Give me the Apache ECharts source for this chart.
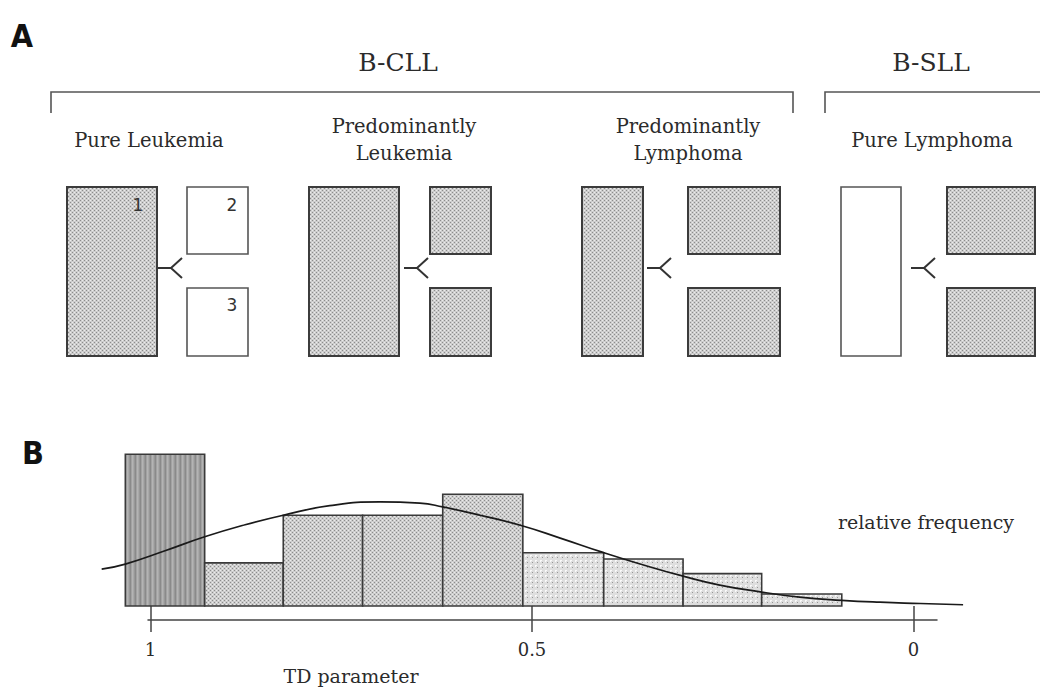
<!DOCTYPE html>
<html><head><meta charset="utf-8">
<script src="https://cdn.jsdelivr.net/npm/echarts@6/dist/echarts.min.js"></script>
<style>html,body{margin:0;padding:0;background:#fff}#chart{width:1042px;height:689px}</style>
</head><body><div id="chart"></div>
<script>
// ---------------- data ----------------
const panelLetters = ['A', 'B'];
const diseaseNames = ['B-CLL', 'B-SLL'];
const groupNames = ['Pure Leukemia', 'Predominantly\nLeukemia', 'Predominantly\nLymphoma', 'Pure Lymphoma'];
const bloodInvolved = [true, true, true, false];
const nodeInvolved = [false, true, true, true];
const compartmentLabels = ['1', '2', '3'];

// histogram of the TD parameter (bin edges in TD units, height = relative frequency %)
const binStartTD = [1.033, 0.929, 0.826, 0.722, 0.617, 0.512, 0.406, 0.302, 0.199];
const binEndTD   = [0.929, 0.826, 0.722, 0.617, 0.512, 0.406, 0.302, 0.199, 0.094];
const binFrequency = [23.9, 6.8, 14.3, 14.3, 17.6, 8.4, 7.4, 5.1, 1.9];
const binKind = ['pure', 'mixed', 'mixed', 'mixed', 'mixed', 'low', 'low', 'low', 'low'];

// fitted density curve
const curveTD = [1.064, 1.033, 0.981, 0.929, 0.876, 0.826, 0.765, 0.699, 0.647, 0.617, 0.568, 0.512, 0.463, 0.406, 0.355, 0.302, 0.254, 0.199, 0.149, 0.094, 0.044, -0.009, -0.065];
const curveFrequency = [5.8, 6.6, 8.7, 10.9, 12.8, 14.3, 15.8, 16.4, 16.2, 15.6, 14.3, 12.6, 10.7, 8.4, 6.5, 4.7, 3.3, 2.2, 1.4, 0.9, 0.6, 0.4, 0.2];

const tdTicks = [1, 0.5, 0];
const xAxisTitle = 'TD parameter';
const yAxisTitle = 'relative frequency';

// ---------------- layout (positions / sizes only) ----------------
const LA = {
  bloodX: [67, 309, 582, 841], bloodW: [90, 90, 61, 60],
  nodeX: [187, 430, 688, 947], nodeW: [61, 61, 92, 88],
  top: 187, bottom: 356, upperBottom: 254, lowerTop: 288,
  forkX: [158, 404, 647, 911], forkY: 268, stem: 13, armDx: 11, armDy: 10,
  labelX: [149, 404, 688, 932], labelY: 140,
  bracketX: [[51, 793], [825, 1040]], bracketDropRight: [true, false],
  bracketY: 92, bracketDrop: 113, titleX: [398, 931], titleY: 62,
  letterPos: [[22, 36], [33, 453]],
  xTitlePos: [351, 676], yTitlePos: [926, 522]
};
// panel B horizontal scale: pixel = TD0_PX - TD_PX * td
const TD_PX = 763, TD0_PX = 913.5, W = 1042;
const plotL = 95, plotR = 970;      // data area (curve overhangs the axis line)
const axisL = 148, axisR = 937;     // drawn axis line
const tdAt = px => (TD0_PX - px) / TD_PX;

const SERIF = '"DejaVu Serif", "Liberation Serif", serif';
const INK = '#2b2b2b';

function makePattern(kind) {
  const c = document.createElement('canvas');
  const ctx = c.getContext('2d');
  if (kind === 'pure') {
    c.width = 5; c.height = 2;
    ['#8a8a8a', '#a2a2a2', '#b4b4b4', '#a8a8a8', '#989898'].forEach((col, i) => { ctx.fillStyle = col; ctx.fillRect(i, 0, 1, 2); });
  } else if (kind === 'mixed') {
    c.width = 4; c.height = 4;
    ctx.fillStyle = '#cdcdcd'; ctx.fillRect(0, 0, 4, 4);
    ctx.fillStyle = '#8c8c8c'; ctx.fillRect(0, 0, 1, 1); ctx.fillRect(2, 2, 1, 1);
    ctx.fillStyle = '#ececec'; ctx.fillRect(2, 0, 1, 1); ctx.fillRect(0, 2, 1, 1);
  } else {
    c.width = 5; c.height = 5;
    ctx.fillStyle = '#dedede'; ctx.fillRect(0, 0, 5, 5);
    ctx.fillStyle = '#969696'; ctx.fillRect(2, 2, 1, 1);
    ctx.fillStyle = '#fafafa'; ctx.fillRect(0, 0, 2, 1); ctx.fillRect(0, 0, 1, 2);
  }
  return { image: c, repeat: 'repeat' };
}
const fills = { pure: makePattern('pure'), mixed: makePattern('mixed'), low: makePattern('low') };

function txt(x, y, text, size, opts) {
  opts = opts || {};
  return {
    type: 'text', x: x, y: y,
    style: {
      text: text, fill: opts.fill || INK, fontSize: size, fontFamily: opts.family || SERIF,
      fontWeight: opts.weight || 'normal', lineHeight: opts.lineHeight || Math.round(size * 1.3),
      align: 'center', verticalAlign: 'middle', textAlign: 'center', textVerticalAlign: 'middle'
    }
  };
}

function renderGroup(params, api) {
  const i = api.value(0);
  const P = (x, y) => api.coord([x, y]);
  const rect = (x0, y0, x1, y1, filled) => {
    const a = P(x0, y0), b = P(x1, y1);
    return { type: 'rect', shape: { x: a[0], y: a[1], width: b[0] - a[0], height: b[1] - a[1] },
      style: { fill: filled ? fills.mixed : '#ffffff', stroke: filled ? '#3c3c3c' : '#555555', lineWidth: filled ? 2 : 1.6 } };
  };
  const bx0 = LA.bloodX[i], bx1 = bx0 + LA.bloodW[i];
  const nx0 = LA.nodeX[i], nx1 = nx0 + LA.nodeW[i];
  const children = [
    rect(bx0, LA.top, bx1, LA.bottom, bloodInvolved[i]),
    rect(nx0, LA.top, nx1, LA.upperBottom, nodeInvolved[i]),
    rect(nx0, LA.lowerTop, nx1, LA.bottom, nodeInvolved[i])
  ];
  const fx = LA.forkX[i], fy = LA.forkY, tip = fx + LA.stem;
  const s0 = P(fx, fy), s1 = P(tip, fy), u = P(tip + LA.armDx, fy - LA.armDy), d = P(tip + LA.armDx, fy + LA.armDy);
  children.push({ type: 'polyline', shape: { points: [s0, s1] }, style: { stroke: '#333', lineWidth: 2, fill: null } });
  children.push({ type: 'polyline', shape: { points: [u, s1, d] }, style: { stroke: '#333', lineWidth: 2, fill: null } });
  const lp = P(LA.labelX[i], LA.labelY);
  children.push(txt(lp[0], lp[1], groupNames[i], 19.5, { lineHeight: 27 }));
  if (i === 0) {
    const sans = { family: '"DejaVu Sans", sans-serif', fill: '#333' };
    let q = P(bx1 - 19, LA.top + 18); children.push(txt(q[0], q[1], compartmentLabels[0], 17, sans));
    q = P(nx1 - 16, LA.top + 18); children.push(txt(q[0], q[1], compartmentLabels[1], 17, sans));
    q = P(nx1 - 16, LA.lowerTop + 17); children.push(txt(q[0], q[1], compartmentLabels[2], 17, sans));
  }
  return { type: 'group', children: children };
}

function renderBracket(params, api) {
  const k = api.value(0);
  const P = (x, y) => api.coord([x, y]);
  const [x0, x1] = LA.bracketX[k];
  const pts = [P(x0, LA.bracketDrop), P(x0, LA.bracketY), P(x1, LA.bracketY)];
  if (LA.bracketDropRight[k]) pts.push(P(x1, LA.bracketDrop));
  const t = P(LA.titleX[k], LA.titleY);
  return { type: 'group', children: [
    { type: 'polyline', shape: { points: pts }, style: { stroke: '#555', lineWidth: 1.6, fill: null } },
    txt(t[0], t[1], diseaseNames[k], 25)
  ] };
}

function renderAnnotations(params, api) {
  const P = (x, y) => api.coord([x, y]);
  const ch = [];
  panelLetters.forEach((l, i) => {
    const p = P(LA.letterPos[i][0], LA.letterPos[i][1]);
    ch.push(txt(p[0], p[1], l, 32, { family: '"DejaVu Sans Condensed", "DejaVu Sans", sans-serif', weight: 'bold', fill: '#111' }));
  });
  let p = P(LA.xTitlePos[0], LA.xTitlePos[1]); ch.push(txt(p[0], p[1], xAxisTitle, 19));
  p = P(LA.yTitlePos[0], LA.yTitlePos[1]); ch.push(txt(p[0], p[1], yAxisTitle, 19));
  return { type: 'group', children: ch };
}

function renderBin(params, api) {
  const a = api.coord([api.value(0), 0]);
  const b = api.coord([api.value(1), api.value(2)]);
  const kind = binKind[api.value(3)];
  return { type: 'rect',
    shape: { x: Math.min(a[0], b[0]), y: b[1], width: Math.abs(b[0] - a[0]), height: a[1] - b[1] },
    style: { fill: fills[kind], stroke: '#3a3a3a', lineWidth: 1.6 } };
}

const chart = echarts.init(document.getElementById('chart'), null, { renderer: 'svg' });
const axisLineStyle = { color: '#444', width: 1.5 };
const gridTop = 447.25, gridBottom = 69;
chart.setOption({
  backgroundColor: '#ffffff',
  animation: false,
  grid: [
    { left: 0, right: 0, top: 0, bottom: 0, outerBoundsMode: 'none' },
    { left: plotL, right: W - plotR, top: gridTop, bottom: gridBottom, outerBoundsMode: 'none' },
    { left: axisL, right: W - axisR, top: gridTop, bottom: gridBottom, outerBoundsMode: 'none' }
  ],
  xAxis: [
    { gridIndex: 0, type: 'value', min: 0, max: 1042, show: false },
    { gridIndex: 1, type: 'value', inverse: true, min: tdAt(plotR), max: tdAt(plotL), show: false },
    { gridIndex: 2, type: 'value', inverse: true, min: tdAt(axisR), max: tdAt(axisL), position: 'bottom',
      axisLine: { show: true, onZero: false, lineStyle: axisLineStyle },
      axisTick: { show: true, customValues: tdTicks, length: 12, lineStyle: axisLineStyle },
      axisLabel: { show: true, customValues: tdTicks, margin: 20, fontSize: 18, fontFamily: SERIF, color: INK,
        formatter: v => String(v) },
      splitLine: { show: false } },
    { gridIndex: 2, type: 'value', inverse: true, min: tdAt(axisR), max: tdAt(axisL), position: 'bottom',
      axisLine: { show: false, onZero: false },
      axisTick: { show: true, inside: true, customValues: tdTicks, length: 14, lineStyle: axisLineStyle },
      axisLabel: { show: false }, splitLine: { show: false } }
  ],
  yAxis: [
    { gridIndex: 0, type: 'value', min: 0, max: 689, inverse: true, show: false },
    { gridIndex: 1, type: 'value', min: -2.2, max: 25, show: false },
    { gridIndex: 2, type: 'value', min: -2.2, max: 25, show: false }
  ],
  series: [
    { type: 'custom', name: 'brackets', xAxisIndex: 0, yAxisIndex: 0, renderItem: renderBracket, silent: true,
      data: diseaseNames.map((n, i) => [i]) },
    { type: 'custom', name: 'groups', xAxisIndex: 0, yAxisIndex: 0, renderItem: renderGroup, silent: true,
      data: groupNames.map((n, i) => [i]) },
    { type: 'custom', name: 'annotations', xAxisIndex: 0, yAxisIndex: 0, renderItem: renderAnnotations, silent: true,
      data: [[0]] },
    { type: 'custom', name: 'TD histogram', xAxisIndex: 1, yAxisIndex: 1, renderItem: renderBin, clip: false,
      encode: { x: [0, 1], y: 2 },
      data: binStartTD.map((s, i) => [s, binEndTD[i], binFrequency[i], i]) },
    { type: 'line', name: 'fit', xAxisIndex: 1, yAxisIndex: 1, smooth: 0.5, showSymbol: false, clip: false, z: 5,
      lineStyle: { color: '#1a1a1a', width: 1.7 },
      data: curveTD.map((t, i) => [t, curveFrequency[i]]) }
  ]
});
</script></body></html>
